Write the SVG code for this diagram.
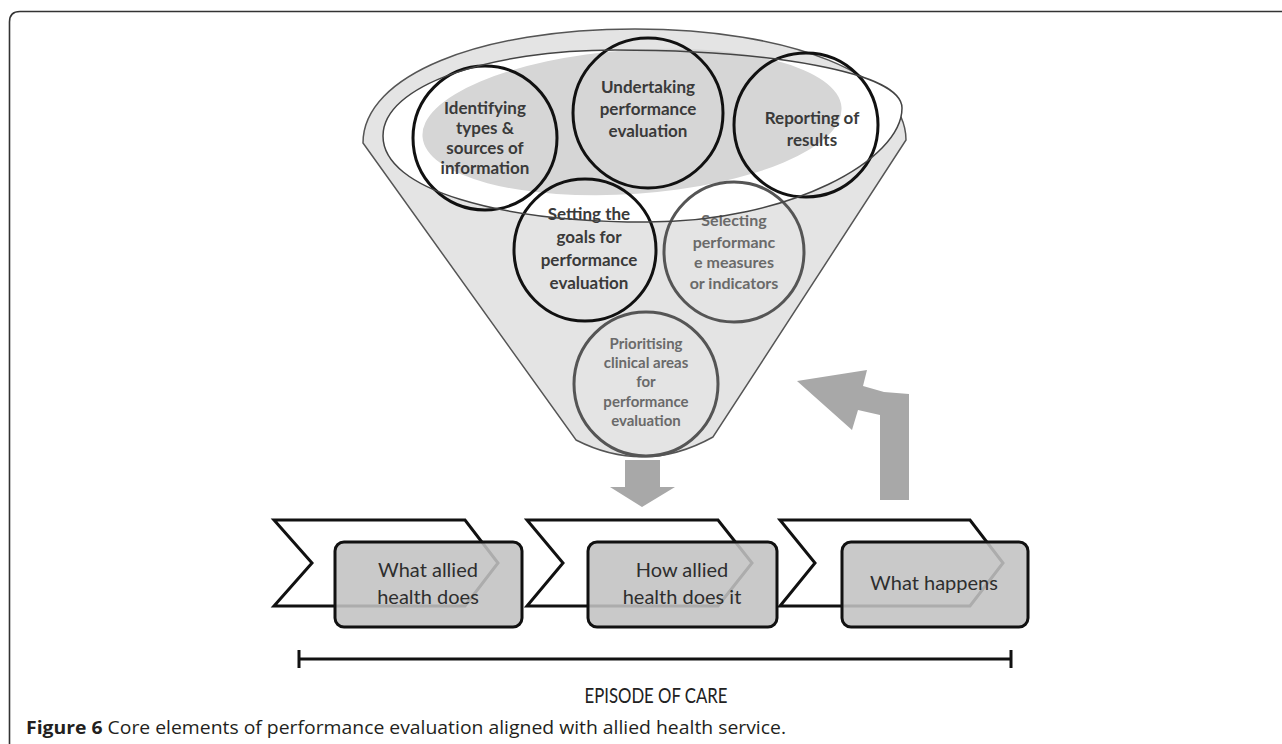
<svg xmlns="http://www.w3.org/2000/svg" width="1282" height="744" viewBox="0 0 1282 744">
<style>
.ct{font-family:Lato,"Open Sans","Liberation Sans",sans-serif;font-size:17px;font-weight:700;fill:#3a3a3a;text-anchor:middle}
.cg{font-family:Lato,"Open Sans","Liberation Sans",sans-serif;font-size:16px;font-weight:700;fill:#6a6a6a;text-anchor:middle}
.cb{fill:none;stroke:#111;stroke-width:3}
.cgs{fill:none;stroke:#555;stroke-width:3}
.chev{fill:#fff;stroke:#111;stroke-width:3;stroke-linejoin:miter}
.box{fill:#c2c2c2;fill-opacity:0.88;stroke:#111;stroke-width:3}
.bt{font-family:Lato,"Open Sans","Liberation Sans",sans-serif;font-size:20px;fill:#2e2e2e;text-anchor:middle}
.arr{fill:#a8a8a8}
</style>
<rect width="1282" height="744" fill="#fff"/>
<path id="frame" d="M9.5 744 L9.5 22 Q9.5 11.5 20 11.5 L1282 11.5" fill="none" stroke="#333" stroke-width="1.6"/>

<g id="funnel">
  <path d="M363 143 C363 75 480 29 635 29 C790 29 906 75 906 140 L713 437 Q645 475 576 440 Z" fill="#e4e4e4" stroke="#555" stroke-width="1.5"/>
  <path d="M383 136 C383 85 490 50 615 50 C770 50 902 72 902 108 C902 160 790 222 647 222 C500 222 383 190 383 136 Z" fill="#fff"/>
  <ellipse cx="632" cy="122" rx="210" ry="72" transform="rotate(-4 632 122)" fill="#d6d6d6"/>
</g>

<g id="n1"><circle class="cb" cx="485" cy="138" r="72"/>
  <text class="ct"><tspan x="485" y="114">Identifying</tspan><tspan x="485" y="134">types &amp;</tspan><tspan x="485" y="154">sources of</tspan><tspan x="485" y="174">information</tspan></text></g>
<g id="n2"><circle class="cb" cx="648" cy="113" r="75"/>
  <text class="ct"><tspan x="648" y="93">Undertaking</tspan><tspan x="648" y="115">performance</tspan><tspan x="648" y="137">evaluation</tspan></text></g>
<g id="n3"><circle class="cb" cx="806" cy="125" r="72"/>
  <text class="ct"><tspan x="812" y="124">Reporting of</tspan><tspan x="812" y="146">results</tspan></text></g>
<g id="n4"><circle class="cb" cx="585" cy="250" r="71"/>
  <text class="ct"><tspan x="589" y="220">Setting the</tspan><tspan x="589" y="243">goals for</tspan><tspan x="589" y="266">performance</tspan><tspan x="589" y="289">evaluation</tspan></text></g>
<g id="n5"><circle class="cgs" cx="734" cy="252" r="70"/>
  <text class="cg"><tspan x="734" y="226">Selecting</tspan><tspan x="734" y="248">performanc</tspan><tspan x="734" y="268">e measures</tspan><tspan x="734" y="289">or indicators</tspan></text></g>
<g id="n6"><circle class="cgs" cx="646" cy="384" r="72"/>
  <text class="cg" style="font-size:15px"><tspan x="646" y="349">Prioritising</tspan><tspan x="646" y="368">clinical areas</tspan><tspan x="646" y="387">for</tspan><tspan x="646" y="407">performance</tspan><tspan x="646" y="426">evaluation</tspan></text></g>

<path id="rim" d="M383 136 C383 85 490 50 615 50 C770 50 902 72 902 108 C902 160 790 222 647 222 C500 222 383 190 383 136 Z" fill="none" stroke="#444" stroke-width="1.5"/>

<g id="connectors">
  <polygon class="arr" points="625,460 660,460 660,487 675,487 642,507 610,487 625,487"/>
  <polygon class="arr" points="880,500 909,500 909,394 884,392 863,386 867,370 797,381 852,430 858,410 880,415"/>
</g>

<g id="s1"><polygon class="chev" points="274,520 465,520 498,563 465,606 274,606 312,563"/>
  <rect class="box" x="335" y="542" width="187" height="85" rx="9"/>
  <text class="bt"><tspan x="428" y="577">What allied</tspan><tspan x="428" y="604">health does</tspan></text></g>
<g id="s2"><polygon class="chev" points="527,520 718,520 752,563 718,606 527,606 563,563"/>
  <rect class="box" x="588" y="542" width="189" height="85" rx="9"/>
  <text class="bt"><tspan x="682" y="577">How allied</tspan><tspan x="682" y="604">health does it</tspan></text></g>
<g id="s3"><polygon class="chev" points="780,520 970,520 1003,563 970,606 780,606 815,563"/>
  <rect class="box" x="842" y="542" width="186" height="85" rx="9"/>
  <text class="bt"><tspan x="934" y="590">What happens</tspan></text></g>

<g id="episode">
  <line x1="299" y1="659" x2="1011" y2="659" stroke="#111" stroke-width="3"/>
  <line x1="299" y1="650" x2="299" y2="668" stroke="#111" stroke-width="3"/>
  <line x1="1011" y1="650" x2="1011" y2="668" stroke="#111" stroke-width="3"/>
  <text x="656" y="703" textLength="143" lengthAdjust="spacingAndGlyphs" style="font-family:Lato,'Liberation Sans',sans-serif;font-size:22px;fill:#222;text-anchor:middle">EPISODE OF CARE</text>
</g>

<text x="26" y="734" textLength="760" lengthAdjust="spacingAndGlyphs" style="font-family:'Open Sans','Liberation Sans',sans-serif;font-size:18px;fill:#231f20"><tspan font-weight="700">Figure 6</tspan> Core elements of performance evaluation aligned with allied health service.</text>
</svg>
